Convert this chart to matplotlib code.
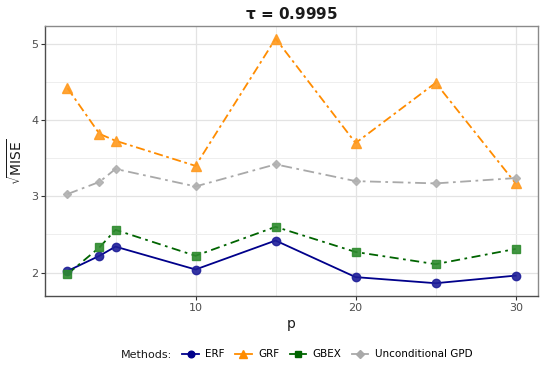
import matplotlib
matplotlib.use("Agg")
import matplotlib.pyplot as plt
from matplotlib.ticker import MultipleLocator
from matplotlib.lines import Line2D

# sqrt(MISE) per method and number of predictors p
p = [2, 4, 5, 10, 15, 20, 25, 30]
erf = [2.02, 2.22, 2.34, 2.04, 2.42, 1.94, 1.86, 1.96]
grf = [4.42, 3.82, 3.73, 3.40, 5.07, 3.70, 4.49, 3.17]
gbex = [1.98, 2.33, 2.56, 2.22, 2.60, 2.27, 2.11, 2.31]
gpd = [3.03, 3.19, 3.36, 3.13, 3.42, 3.20, 3.17, 3.24]

methods = ["ERF", "GRF", "GBEX", "Unconditional GPD"]
series = [erf, grf, gbex, gpd]
line_colors = ["#00008B", "#FF8C00", "#006400", "#A9A9A9"]
marker_colors = ["#1F1F99", "#FF9A1F", "#2E8B2E", "#B0B0B0"]
markers = ["o", "^", "s", "D"]
markersizes = [6, 7.5, 6, 4.5]
dashes = [None, (5, 2, 1.5, 2), (5, 2.5, 1.5, 2.5), (6, 2.5, 1.5, 2.5)]

plt.rcParams["font.family"] = ["DejaVu Sans"]

fig = plt.figure(figsize=(5.43, 3.67), dpi=100)
ax = fig.add_axes([0.083, 0.193, 0.908, 0.736])

handles = []
for vals, name, lc, mc, mk, ms, ds in zip(series, methods, line_colors,
                                          marker_colors, markers, markersizes, dashes):
    ln, = ax.plot(p, vals, color=lc, lw=1.3, zorder=3)
    if ds is not None:
        ln.set_dashes(ds)
    ax.plot(p, vals, linestyle="none", marker=mk, markersize=ms,
            markerfacecolor=mc, markeredgecolor=mc, alpha=0.9, zorder=4)
    h = Line2D([], [], color=lc, lw=1.3, marker=mk, markersize=ms * 0.8,
               markerfacecolor=lc, markeredgecolor=lc)
    handles.append(h)

ax.set_xlim(0.6, 31.4)
ax.set_ylim(1.69, 5.235)
ax.xaxis.set_major_locator(MultipleLocator(10))
ax.xaxis.set_minor_locator(MultipleLocator(5))
ax.yaxis.set_major_locator(MultipleLocator(1))
ax.yaxis.set_minor_locator(MultipleLocator(0.5))
ax.grid(which="major", color="#E3E3E3", lw=0.9)
ax.grid(which="minor", color="#EEEEEE", lw=0.7)
ax.set_axisbelow(True)

for side in ["top", "right"]:
    ax.spines[side].set_color("#8A8A8A")
for side in ["left", "bottom"]:
    ax.spines[side].set_color("#4D4D4D")
for sp in ax.spines.values():
    sp.set_linewidth(1.0)

ax.tick_params(which="major", length=3, color="#333333", labelsize=8,
               labelcolor="#4D4D4D", pad=2)
ax.tick_params(which="minor", length=0)

ax.set_xlabel("p", fontsize=10, color="#1A1A1A", labelpad=3)
ax.set_ylabel(r"$\sqrt{\mathrm{MISE}}$", fontsize=10, color="#1A1A1A", labelpad=4)
ax.set_title(r"$\mathbf{\tau}$ = 0.9995", fontsize=11, fontweight="bold",
             color="#1A1A1A", pad=5)

fig.text(0.222, 0.033, "Methods:", fontsize=8, color="#1A1A1A", va="center")
fig.legend(handles, methods, loc="center left", bbox_to_anchor=(0.328, 0.035),
           ncol=4, frameon=False, fontsize=7.5, handlelength=1.6,
           handletextpad=0.6, columnspacing=1.0, borderaxespad=0)

fig.savefig("out.png", dpi=100)
